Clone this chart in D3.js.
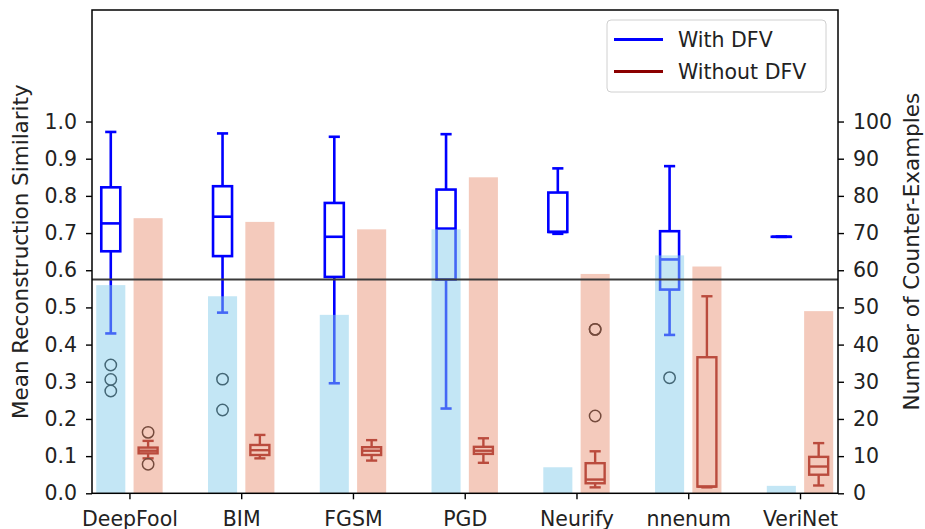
<!DOCTYPE html>
<html>
<head>
<meta charset="utf-8">
<script src="https://cdn.jsdelivr.net/npm/d3@7"></script>
<style>
  body { margin: 0; background: #fff; }
  svg { font-family: "DejaVu Sans", sans-serif; }
</style>
</head>
<body>
<div id="chart"></div>
<script>
// data
var categories = ["DeepFool", "BIM", "FGSM", "PGD", "Neurify", "nnenum", "VeriNet"];
var withCount = [56, 53, 48, 71, 7, 64, 2];
var withoutCount = [74, 73, 71, 85, 59, 61, 49];

var withLow = [0.430, 0.486, 0.296, 0.228, 0.698, 0.426, 0.690];
var withQ1 = [0.651, 0.638, 0.582, 0.575, 0.703, 0.548, 0.690];
var withMed = [0.726, 0.744, 0.690, 0.712, 0.703, 0.629, 0.690];
var withQ3 = [0.823, 0.826, 0.781, 0.817, 0.809, 0.705, 0.690];
var withHigh = [0.972, 0.968, 0.959, 0.966, 0.874, 0.880, 0.690];
var withFliers = [[0.345, 0.306, 0.275], [0.307, 0.224], [], [], [], [0.311], []];

var withoutLow = [0.094, 0.094, 0.088, 0.082, 0.016, 0.016, 0.021];
var withoutQ1 = [0.1075, 0.103, 0.103, 0.106, 0.027, 0.018, 0.050];
var withoutMed = [0.1145, 0.116, 0.1145, 0.1145, 0.037, 0.018, 0.072];
var withoutQ3 = [0.123, 0.130, 0.124, 0.125, 0.081, 0.366, 0.098];
var withoutHigh = [0.141, 0.157, 0.143, 0.148, 0.113, 0.530, 0.135];
var withoutFliers = [[0.164, 0.078], [], [], [], [0.441, 0.441, 0.208], [], []];

var simTicks = d3.range(0, 11).map(d => d / 10);
var countTicks = d3.range(0, 101, 10);
var threshold = 0.575;

var W = 925, H = 529;
var plotL = 92, plotR = 838, plotT = 10, plotB = 493.3;
var fs = 20.5;

var x = d3.scaleLinear().domain([-0.335, 6.34]).range([plotL, plotR]);
var y = d3.scaleLinear().domain([0, 1.3]).range([plotB, plotT]);
var y2 = d3.scaleLinear().domain([0, 130]).range([plotB, plotT]);

var svg = d3.select("#chart").append("svg")
  .attr("width", W)
  .attr("height", H);

var off = 0.167, boxW = 0.17, capW = 0.1, barW = 0.26;

function drawBoxes(g, lo, q1, med, q3, hi, fl, shift, color, lw) {
  categories.forEach(function(c, i) {
    var cx = x(i + shift);
    var bw = x(boxW) - x(0), cw = x(capW) - x(0);
    var bg = g.append("g")
      .attr("stroke", color)
      .attr("stroke-width", lw)
      .attr("fill", "none");
    // whiskers
    bg.append("line").attr("x1", cx).attr("x2", cx).attr("y1", y(q3[i])).attr("y2", y(hi[i]));
    bg.append("line").attr("x1", cx).attr("x2", cx).attr("y1", y(q1[i])).attr("y2", y(lo[i]));
    // caps
    bg.append("line").attr("x1", cx - cw / 2).attr("x2", cx + cw / 2).attr("y1", y(hi[i])).attr("y2", y(hi[i]));
    bg.append("line").attr("x1", cx - cw / 2).attr("x2", cx + cw / 2).attr("y1", y(lo[i])).attr("y2", y(lo[i]));
    // box
    bg.append("rect")
      .attr("x", cx - bw / 2)
      .attr("y", y(q3[i]))
      .attr("width", bw)
      .attr("height", Math.max(0.01, y(q1[i]) - y(q3[i])));
    bg.append("line").attr("x1", cx - bw / 2).attr("x2", cx + bw / 2).attr("y1", y(med[i])).attr("y2", y(med[i]));
    // fliers
    g.selectAll(null)
      .data(fl[i])
      .enter().append("circle")
      .attr("cx", cx)
      .attr("cy", d => y(d))
      .attr("r", 5.7)
      .attr("fill", "none")
      .attr("stroke", "#000")
      .attr("stroke-width", 1.5);
  });
}

var boxes = svg.append("g");
drawBoxes(boxes, withLow, withQ1, withMed, withQ3, withHigh, withFliers, -off, "#0000ff", 2.6);
drawBoxes(boxes, withoutLow, withoutQ1, withoutMed, withoutQ3, withoutHigh, withoutFliers, off, "#8b0000", 2.4);

// count bars on the twin axis, drawn over the boxes
var bars = svg.append("g");
bars.selectAll(".bw")
  .data(withCount)
  .enter().append("rect")
  .attr("x", (d, i) => x(i - off - barW / 2))
  .attr("width", x(barW) - x(0))
  .attr("y", d => y2(d))
  .attr("height", d => plotB - y2(d))
  .attr("fill", "#87ceeb")
  .attr("fill-opacity", 0.5);
bars.selectAll(".bo")
  .data(withoutCount)
  .enter().append("rect")
  .attr("x", (d, i) => x(i + off - barW / 2))
  .attr("width", x(barW) - x(0))
  .attr("y", d => y2(d))
  .attr("height", d => plotB - y2(d))
  .attr("fill", "#e9967a")
  .attr("fill-opacity", 0.5);

svg.append("line")
  .attr("x1", plotL).attr("x2", plotR)
  .attr("y1", y(threshold)).attr("y2", y(threshold))
  .attr("stroke", "#3a3a3a")
  .attr("stroke-width", 2);

// axes
var ax = svg.append("g").attr("transform", "translate(0," + plotB + ")")
  .call(d3.axisBottom(x).tickValues(d3.range(categories.length)).tickFormat(i => categories[i]).tickSize(6).tickPadding(10));
var ay = svg.append("g").attr("transform", "translate(" + plotL + ",0)")
  .call(d3.axisLeft(y).tickValues(simTicks).tickFormat(d3.format(".1f")).tickSize(6).tickPadding(9));
var ay2 = svg.append("g").attr("transform", "translate(" + plotR + ",0)")
  .call(d3.axisRight(y2).tickValues(countTicks).tickSize(6).tickPadding(9));

[ax, ay, ay2].forEach(function(a) {
  a.select(".domain").remove();
  a.selectAll("line").attr("stroke", "#000").attr("stroke-width", 1.4);
  a.selectAll("text").attr("font-size", fs).attr("fill", "#222").attr("font-family", "DejaVu Sans");
});
ax.selectAll("text").attr("dy", null).attr("y", 0).attr("transform", "translate(0,32.5)");

svg.append("rect")
  .attr("x", plotL).attr("y", plotT)
  .attr("width", plotR - plotL).attr("height", plotB - plotT)
  .attr("fill", "none")
  .attr("stroke", "#000")
  .attr("stroke-width", 1.5);

svg.append("text")
  .attr("transform", "translate(28," + (plotT + plotB) / 2 + ") rotate(-90)")
  .attr("text-anchor", "middle")
  .attr("font-size", 21.5)
  .attr("fill", "#222")
  .text("Mean Reconstruction Similarity");

svg.append("text")
  .attr("transform", "translate(919," + (plotT + plotB) / 2 + ") rotate(-90)")
  .attr("text-anchor", "middle")
  .attr("font-size", 21.5)
  .attr("fill", "#222")
  .text("Number of Counter-Examples");

// legend
var legend = svg.append("g");
legend.append("rect")
  .attr("x", 607).attr("y", 20)
  .attr("width", 219).attr("height", 72)
  .attr("rx", 4)
  .attr("fill", "#fff").attr("fill-opacity", 0.8)
  .attr("stroke", "#d0d0d0");
var legItems = [["With DFV", "#0000ff"], ["Without DFV", "#8b0000"]];
legItems.forEach(function(d, i) {
  var ly = 39.5 + i * 32;
  legend.append("line")
    .attr("x1", 614).attr("x2", 663)
    .attr("y1", ly).attr("y2", ly)
    .attr("stroke", d[1]).attr("stroke-width", 3);
  legend.append("text")
    .attr("x", 678).attr("y", ly)
    .attr("dy", "0.35em")
    .attr("font-size", fs)
    .attr("fill", "#222")
    .text(d[0]);
});
</script>
</body>
</html>
